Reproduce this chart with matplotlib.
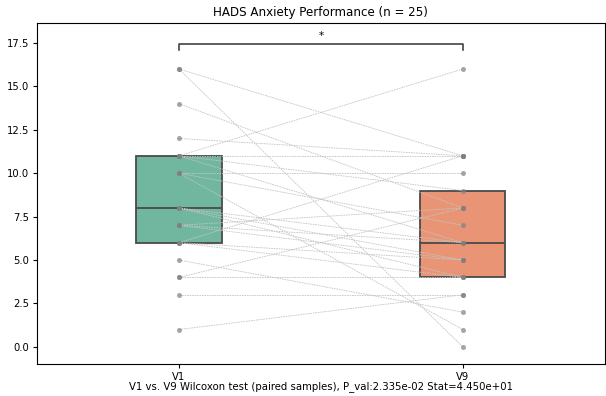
import matplotlib
matplotlib.use("Agg")
import matplotlib.pyplot as plt
import numpy as np

# paired scores, one entry per subject
groups = ["V1", "V9"]
v1 = [16, 16, 14, 12, 11, 11, 1, 3, 4, 4, 5,
      11, 11, 10, 10, 10, 8, 8, 8, 7, 7, 7, 6, 6, 6]
v9 = [11, 0, 8, 11, 16, 11, 3, 3, 4, 8, 2,
      9, 6, 1, 7, 10, 5, 6, 4, 5, 8, 6, 4, 5, 11]
box_colors = ["#71b7a0", "#e99575"]

title = "HADS Anxiety Performance (n = 25)"
test_text = "V1 vs. V9 Wilcoxon test (paired samples), P_val:2.335e-02 Stat=4.450e+01"

fig = plt.figure(figsize=(6.06, 3.96), dpi=100)
ax = fig.add_axes([0.061, 0.081, 0.937, 0.861])

pos = np.arange(len(groups))
bp = ax.boxplot([v1, v9], positions=pos, widths=0.3, whis=0, showfliers=False,
                showcaps=False, patch_artist=True,
                medianprops=dict(color="#4a4a4a", linewidth=1.3),
                boxprops=dict(edgecolor="#4a4a4a", linewidth=1.3),
                whiskerprops=dict(linewidth=0))
for patch, c in zip(bp["boxes"], box_colors):
    patch.set_facecolor(c)

# paired lines
for a, b in zip(v1, v9):
    ax.plot(pos, [a, b], color="#c4c4c4", linestyle=(0, (2, 1)), linewidth=0.6, zorder=3)
ax.scatter(np.zeros(len(v1)), v1, s=13, color="#808080", alpha=0.7, zorder=4, linewidths=0)
ax.scatter(np.ones(len(v9)), v9, s=13, color="#808080", alpha=0.7, zorder=4, linewidths=0)

# significance bracket
ax.plot([0, 0, 1, 1], [17.1, 17.45, 17.45, 17.1], color="#333333", linewidth=1.1)
ax.text(0.5, 17.6, "*", ha="center", va="bottom", fontsize=7.5)

ax.set_xlim(-0.5, 1.5)
ax.set_ylim(-0.98, 18.65)
ax.set_yticks(np.arange(0, 17.6, 2.5))
ax.set_xticks(pos)
ax.set_xticklabels(groups)
ax.tick_params(labelsize=7.2, length=3, pad=2.5)
ax.set_title(title, fontsize=8.6, pad=5)
ax.set_xlabel(test_text, fontsize=7.3, labelpad=0)

fig.savefig("out.png", dpi=100)
